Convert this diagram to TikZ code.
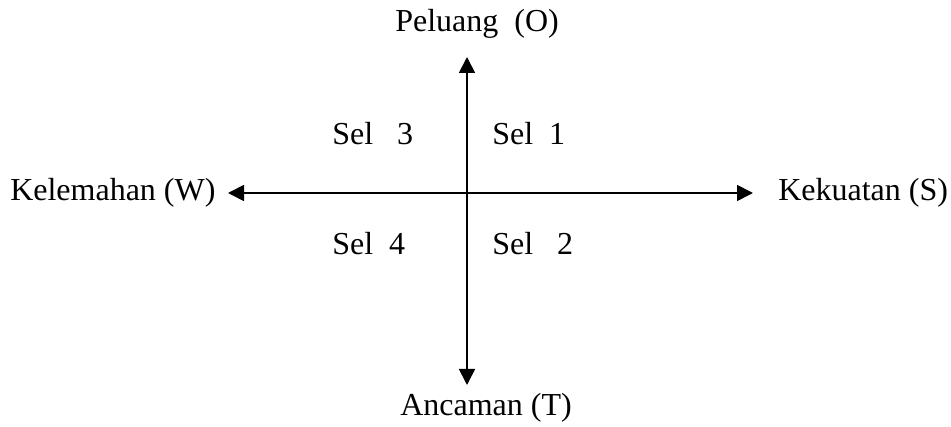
\documentclass[tikz,border=0pt]{standalone}
\usepackage{fontspec}
\setmainfont{Liberation Serif}
\usetikzlibrary{arrows.meta}
\begin{document}
\begin{tikzpicture}[x=0.75pt,y=-0.75pt,
  lbl/.style={font=\fontsize{24}{28}\selectfont, inner sep=0pt, anchor=west},
  axis/.style={line width=1.3pt, {Triangle[length=12pt,width=12pt]}-{Triangle[length=12pt,width=12pt]}}]
\useasboundingbox (0,0) rectangle (951,427);
\coordinate (top) at (467,57);
\coordinate (bot) at (467,385);
\coordinate (lft) at (228,193);
\coordinate (rgt) at (753,193);
\draw[axis] (top) -- (bot);
\draw[axis] (lft) -- (rgt);
\node[lbl] (o) at (395,24) {Peluang\ \ (O)};
\node[lbl] (t) at (400,408) {Ancaman (T)};
\node[lbl] (w) at (10,193) {Kelemahan (W)};
\node[lbl] (s) at (778,193) {Kekuatan (S)};
\node[lbl] (s3) at (332,134) {Sel\ \ \ 3};
\node[lbl] (s1) at (492,134) {Sel\ \ 1};
\node[lbl] (s4) at (332,244) {Sel\ \ 4};
\node[lbl] (s2) at (492,244) {Sel\ \ \ 2};
\end{tikzpicture}
\end{document}
